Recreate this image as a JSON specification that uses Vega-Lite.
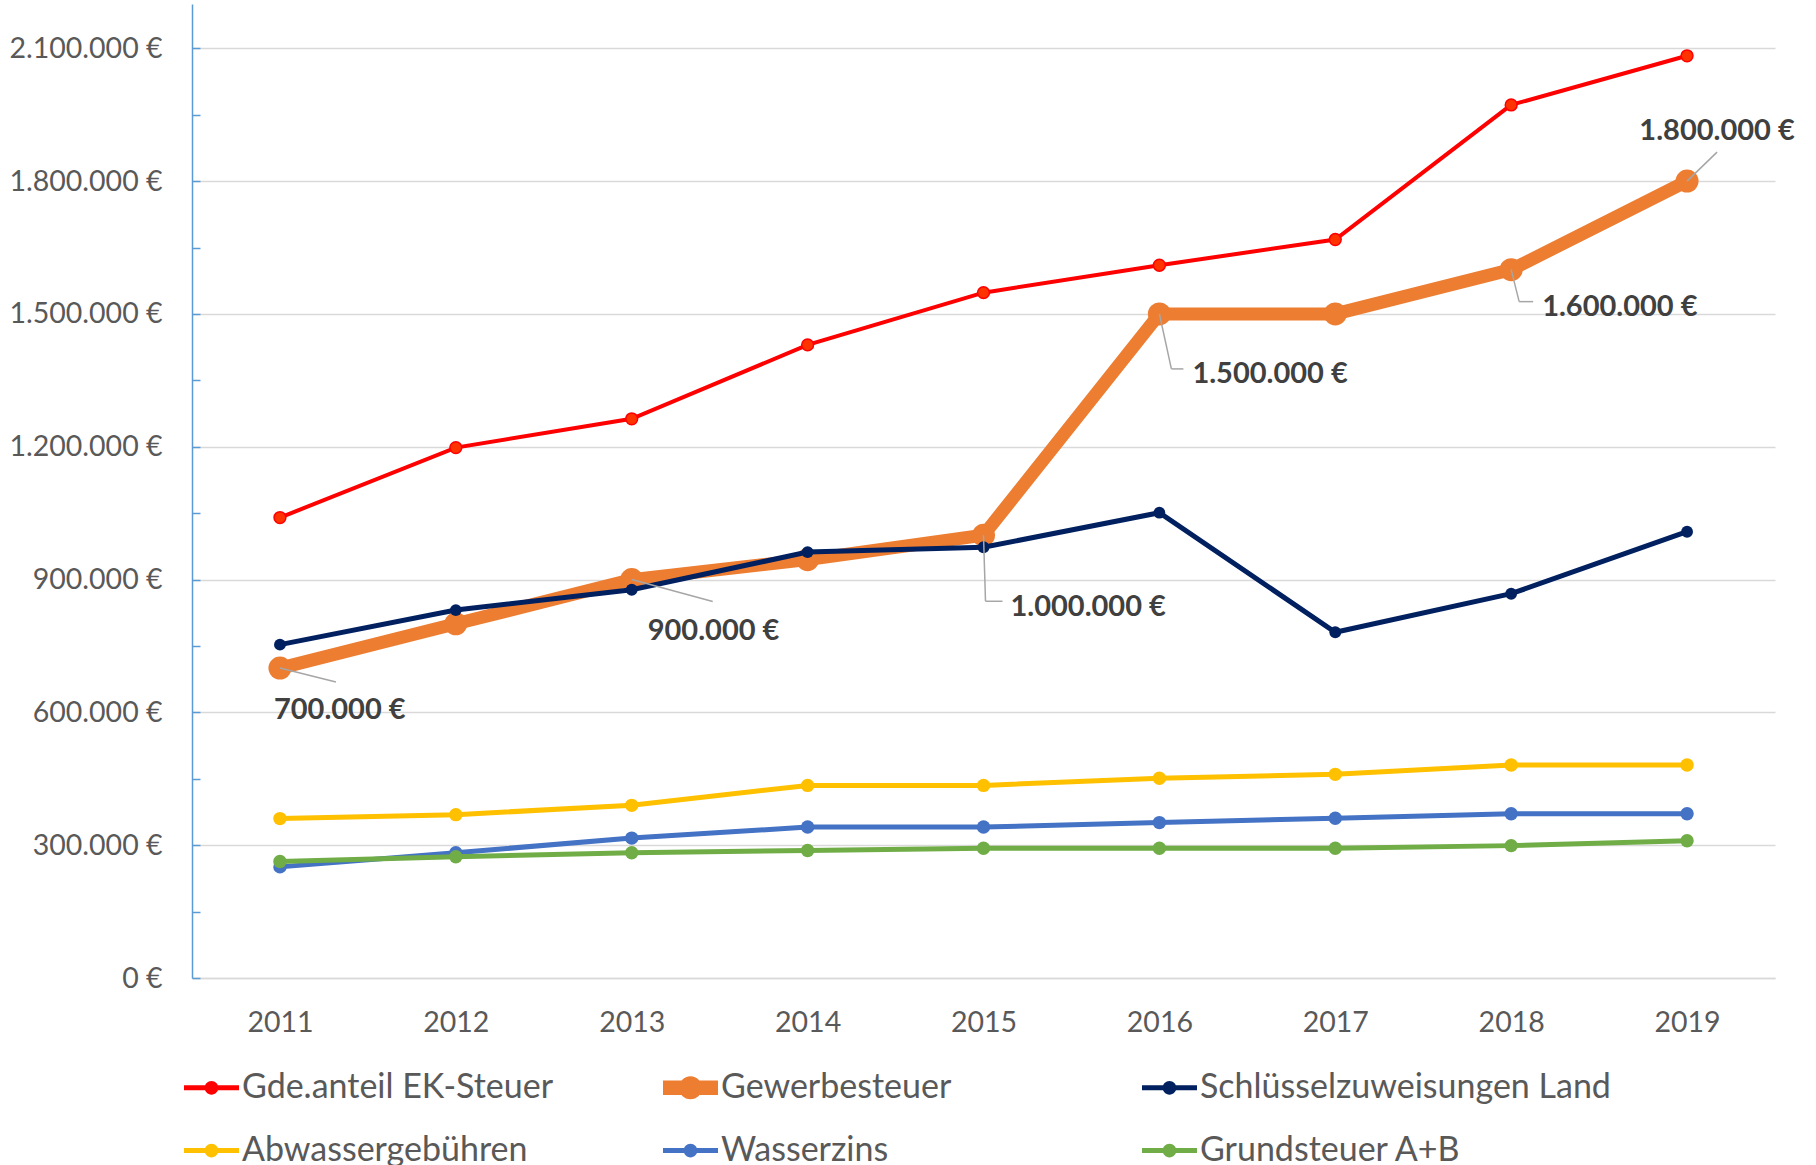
{
  "$schema": "https://vega.github.io/schema/vega-lite/v6.json",
  "width": 1583,
  "height": 974,
  "autosize": "none",
  "padding": {"left": 192, "top": 4, "right": 41, "bottom": 187},
  "background": "white",
  "config": {
    "locale": {"number": {"decimal": ",", "thousands": ".", "grouping": [3], "currency": ["", " €"]}},
    "view": {"stroke": null},
    "font": "Lato"
  },
  "data": {"values": [
    {"year": "2011", "series": "Gde.anteil EK-Steuer", "value": 1040000},
    {"year": "2012", "series": "Gde.anteil EK-Steuer", "value": 1198000},
    {"year": "2013", "series": "Gde.anteil EK-Steuer", "value": 1263000},
    {"year": "2014", "series": "Gde.anteil EK-Steuer", "value": 1430000},
    {"year": "2015", "series": "Gde.anteil EK-Steuer", "value": 1548000},
    {"year": "2016", "series": "Gde.anteil EK-Steuer", "value": 1610000},
    {"year": "2017", "series": "Gde.anteil EK-Steuer", "value": 1668000},
    {"year": "2018", "series": "Gde.anteil EK-Steuer", "value": 1972000},
    {"year": "2019", "series": "Gde.anteil EK-Steuer", "value": 2083000},
    {"year": "2011", "series": "Gewerbesteuer", "value": 700000},
    {"year": "2012", "series": "Gewerbesteuer", "value": 800000},
    {"year": "2013", "series": "Gewerbesteuer", "value": 900000},
    {"year": "2014", "series": "Gewerbesteuer", "value": 945000},
    {"year": "2015", "series": "Gewerbesteuer", "value": 1000000},
    {"year": "2016", "series": "Gewerbesteuer", "value": 1500000},
    {"year": "2017", "series": "Gewerbesteuer", "value": 1500000},
    {"year": "2018", "series": "Gewerbesteuer", "value": 1600000},
    {"year": "2019", "series": "Gewerbesteuer", "value": 1800000},
    {"year": "2011", "series": "Schlüsselzuweisungen Land", "value": 753000},
    {"year": "2012", "series": "Schlüsselzuweisungen Land", "value": 831000},
    {"year": "2013", "series": "Schlüsselzuweisungen Land", "value": 877000},
    {"year": "2014", "series": "Schlüsselzuweisungen Land", "value": 962000},
    {"year": "2015", "series": "Schlüsselzuweisungen Land", "value": 973000},
    {"year": "2016", "series": "Schlüsselzuweisungen Land", "value": 1051000},
    {"year": "2017", "series": "Schlüsselzuweisungen Land", "value": 781000},
    {"year": "2018", "series": "Schlüsselzuweisungen Land", "value": 868000},
    {"year": "2019", "series": "Schlüsselzuweisungen Land", "value": 1008000},
    {"year": "2011", "series": "Abwassergebühren", "value": 360000},
    {"year": "2012", "series": "Abwassergebühren", "value": 369000},
    {"year": "2013", "series": "Abwassergebühren", "value": 390000},
    {"year": "2014", "series": "Abwassergebühren", "value": 435000},
    {"year": "2015", "series": "Abwassergebühren", "value": 435000},
    {"year": "2016", "series": "Abwassergebühren", "value": 451000},
    {"year": "2017", "series": "Abwassergebühren", "value": 460000},
    {"year": "2018", "series": "Abwassergebühren", "value": 481000},
    {"year": "2019", "series": "Abwassergebühren", "value": 481000},
    {"year": "2011", "series": "Wasserzins", "value": 251000},
    {"year": "2012", "series": "Wasserzins", "value": 283000},
    {"year": "2013", "series": "Wasserzins", "value": 316000},
    {"year": "2014", "series": "Wasserzins", "value": 341000},
    {"year": "2015", "series": "Wasserzins", "value": 341000},
    {"year": "2016", "series": "Wasserzins", "value": 351000},
    {"year": "2017", "series": "Wasserzins", "value": 361000},
    {"year": "2018", "series": "Wasserzins", "value": 371000},
    {"year": "2019", "series": "Wasserzins", "value": 371000},
    {"year": "2011", "series": "Grundsteuer A+B", "value": 263000},
    {"year": "2012", "series": "Grundsteuer A+B", "value": 274000},
    {"year": "2013", "series": "Grundsteuer A+B", "value": 283000},
    {"year": "2014", "series": "Grundsteuer A+B", "value": 288000},
    {"year": "2015", "series": "Grundsteuer A+B", "value": 293000},
    {"year": "2016", "series": "Grundsteuer A+B", "value": 293000},
    {"year": "2017", "series": "Grundsteuer A+B", "value": 293000},
    {"year": "2018", "series": "Grundsteuer A+B", "value": 299000},
    {"year": "2019", "series": "Grundsteuer A+B", "value": 310000}
  ]},
  "encoding": {
    "x": {"field": "year", "type": "ordinal", "scale": {"type": "point", "padding": 0.5},
      "axis": {"title": null, "labelAngle": 0, "ticks": false, "grid": false, "domainColor": "#D9D9D9", "domainWidth": 1.5,
        "labelFont": "Lato", "labelFontSize": 28.5, "labelColor": "#595959", "labelPadding": 30}},
    "y": {"field": "value", "type": "quantitative", "scale": {"domain": [0, 2200000], "nice": false, "zero": true},
      "axis": {"title": null,
        "values": [0, 150000, 300000, 450000, 600000, 750000, 900000, 1050000, 1200000, 1350000, 1500000, 1650000, 1800000, 1950000, 2100000],
        "format": "$,d", "formatType": "number",
        "labelExpr": "datum.value % 300000 === 0 ? datum.label : ''",
        "grid": true, "gridColor": "#D9D9D9", "gridWidth": 1.5,
        "gridOpacity": {"condition": {"test": "datum.value % 300000 === 0", "value": 1}, "value": 0},
        "domainColor": "#5B9BD5", "domainWidth": 1.5, "tickColor": "#5B9BD5", "tickWidth": 1.5, "tickSize": -8,
        "labelFont": "Lato", "labelFontSize": 28.5, "labelColor": "#595959", "labelPadding": 38}},
    "color": {"field": "series", "type": "nominal",
      "scale": {"domain": ["Gde.anteil EK-Steuer", "Gewerbesteuer", "Schlüsselzuweisungen Land", "Abwassergebühren", "Wasserzins", "Grundsteuer A+B"],
        "range": ["#FF0000", "#ED7D31", "#002060", "#FFC000", "#4472C4", "#70AD47"]},
      "legend": {"title": null, "orient": "none", "legendX": -8, "legendY": 1056, "direction": "horizontal", "columns": 3, "gridAlign": "all",
        "columnPadding": 10, "rowPadding": 18, "labelFont": "Lato", "labelFontSize": 34, "labelColor": "#595959", "labelOffset": 3, "labelLimit": 600,
        "symbolType": "M0,-0.45M0,0.45M-1,-0.09L1,-0.09L1,0.09L-1,0.09ZM-0.25,0A0.25,0.25 0 1,1 0.25,0A0.25,0.25 0 1,1 -0.25,0Z", "symbolSize": 3025, "symbolStrokeWidth": 0,
        "encode": {"symbols": {"update": {
          "shape": {"signal": "datum.value === 'Gewerbesteuer' ? 'M0,-0.45M0,0.45M-1,-0.26L1,-0.26L1,0.26L-1,0.26ZM-0.42,0A0.42,0.42 0 1,1 0.42,0A0.42,0.42 0 1,1 -0.42,0Z' : 'M0,-0.45M0,0.45M-1,-0.09L1,-0.09L1,0.09L-1,0.09ZM-0.25,0A0.25,0.25 0 1,1 0.25,0A0.25,0.25 0 1,1 -0.25,0Z'"},
          "fill": {"scale": "color", "field": "value"},
          "fillOpacity": {"value": 1}, "opacity": {"value": 1},
          "strokeWidth": {"value": 0}}}}}}
  },
  "layer": [
    {"transform": [{"filter": "datum.series === 'Gde.anteil EK-Steuer'"}], "mark": {"type": "line", "strokeWidth": 4}},
    {"transform": [{"filter": "datum.series === 'Gde.anteil EK-Steuer'"}], "mark": {"type": "point", "filled": true, "size": 140, "stroke": "#FF0000", "strokeWidth": 1.5, "opacity": 1}, "encoding": {"color": {"value": "#FF3300"}}},
    {"transform": [{"filter": "datum.series === 'Gewerbesteuer'"}], "mark": {"type": "line", "strokeWidth": 13}},
    {"transform": [{"filter": "datum.series === 'Gewerbesteuer'"}], "mark": {"type": "point", "filled": true, "size": 530, "opacity": 1}},
    {"transform": [{"filter": "datum.series === 'Schlüsselzuweisungen Land'"}], "mark": {"type": "line", "strokeWidth": 5}},
    {"transform": [{"filter": "datum.series === 'Schlüsselzuweisungen Land'"}], "mark": {"type": "point", "filled": true, "size": 140, "opacity": 1}},
    {"transform": [{"filter": "datum.series === 'Abwassergebühren'"}], "mark": {"type": "line", "strokeWidth": 5}},
    {"transform": [{"filter": "datum.series === 'Abwassergebühren'"}], "mark": {"type": "point", "filled": true, "size": 180, "opacity": 1}},
    {"transform": [{"filter": "datum.series === 'Wasserzins'"}], "mark": {"type": "line", "strokeWidth": 5}},
    {"transform": [{"filter": "datum.series === 'Wasserzins'"}], "mark": {"type": "point", "filled": true, "size": 180, "opacity": 1}},
    {"transform": [{"filter": "datum.series === 'Grundsteuer A+B'"}], "mark": {"type": "line", "strokeWidth": 5}},
    {"transform": [{"filter": "datum.series === 'Grundsteuer A+B'"}], "mark": {"type": "point", "filled": true, "size": 180, "opacity": 1}},

    {"transform": [{"filter": "datum.series === 'Gewerbesteuer' && datum.year === '2011'"}],
      "layer": [
        {"mark": {"type": "rule", "strokeWidth": 1.5, "x2Offset": 56, "y2Offset": 14}, "encoding": {"x2": {"field": "year"}, "y2": {"field": "value"}, "color": {"value": "#A6A6A6"}}},
        {"mark": {"type": "text", "align": "left", "baseline": "middle", "dx": -6, "dy": 42, "font": "Lato", "fontWeight": "bold", "fontSize": 29}, "encoding": {"text": {"field": "value", "type": "quantitative", "format": "$,d", "formatType": "number"}, "color": {"value": "#404040"}}}
      ]},
    {"transform": [{"filter": "datum.series === 'Gewerbesteuer' && datum.year === '2013'"}],
      "layer": [
        {"mark": {"type": "rule", "strokeWidth": 1.5, "x2Offset": 81, "y2Offset": 22}, "encoding": {"x2": {"field": "year"}, "y2": {"field": "value"}, "color": {"value": "#A6A6A6"}}},
        {"mark": {"type": "text", "align": "left", "baseline": "middle", "dx": 16, "dy": 51, "font": "Lato", "fontWeight": "bold", "fontSize": 29}, "encoding": {"text": {"field": "value", "type": "quantitative", "format": "$,d", "formatType": "number"}, "color": {"value": "#404040"}}}
      ]},
    {"transform": [{"filter": "datum.series === 'Gewerbesteuer' && datum.year === '2015'"}],
      "layer": [
        {"mark": {"type": "rule", "strokeWidth": 1.5, "x2Offset": 2, "y2Offset": 66}, "encoding": {"x2": {"field": "year"}, "y2": {"field": "value"}, "color": {"value": "#A6A6A6"}}},
        {"mark": {"type": "rule", "strokeWidth": 1.5, "xOffset": 2, "yOffset": 66, "x2Offset": 19, "y2Offset": 66}, "encoding": {"x2": {"field": "year"}, "y2": {"field": "value"}, "color": {"value": "#A6A6A6"}}},
        {"mark": {"type": "text", "align": "left", "baseline": "middle", "dx": 27, "dy": 72, "font": "Lato", "fontWeight": "bold", "fontSize": 29}, "encoding": {"text": {"field": "value", "type": "quantitative", "format": "$,d", "formatType": "number"}, "color": {"value": "#404040"}}}
      ]},
    {"transform": [{"filter": "datum.series === 'Gewerbesteuer' && datum.year === '2016'"}],
      "layer": [
        {"mark": {"type": "rule", "strokeWidth": 1.5, "x2Offset": 12, "y2Offset": 55}, "encoding": {"x2": {"field": "year"}, "y2": {"field": "value"}, "color": {"value": "#A6A6A6"}}},
        {"mark": {"type": "rule", "strokeWidth": 1.5, "xOffset": 12, "yOffset": 55, "x2Offset": 24, "y2Offset": 55}, "encoding": {"x2": {"field": "year"}, "y2": {"field": "value"}, "color": {"value": "#A6A6A6"}}},
        {"mark": {"type": "text", "align": "left", "baseline": "middle", "dx": 33, "dy": 60, "font": "Lato", "fontWeight": "bold", "fontSize": 29}, "encoding": {"text": {"field": "value", "type": "quantitative", "format": "$,d", "formatType": "number"}, "color": {"value": "#404040"}}}
      ]},
    {"transform": [{"filter": "datum.series === 'Gewerbesteuer' && datum.year === '2018'"}],
      "layer": [
        {"mark": {"type": "rule", "strokeWidth": 1.5, "x2Offset": 8, "y2Offset": 32}, "encoding": {"x2": {"field": "year"}, "y2": {"field": "value"}, "color": {"value": "#A6A6A6"}}},
        {"mark": {"type": "rule", "strokeWidth": 1.5, "xOffset": 8, "yOffset": 32, "x2Offset": 22, "y2Offset": 32}, "encoding": {"x2": {"field": "year"}, "y2": {"field": "value"}, "color": {"value": "#A6A6A6"}}},
        {"mark": {"type": "text", "align": "left", "baseline": "middle", "dx": 31, "dy": 37, "font": "Lato", "fontWeight": "bold", "fontSize": 29}, "encoding": {"text": {"field": "value", "type": "quantitative", "format": "$,d", "formatType": "number"}, "color": {"value": "#404040"}}}
      ]},
    {"transform": [{"filter": "datum.series === 'Gewerbesteuer' && datum.year === '2019'"}],
      "layer": [
        {"mark": {"type": "rule", "strokeWidth": 1.5, "x2Offset": 30, "y2Offset": -29}, "encoding": {"x2": {"field": "year"}, "y2": {"field": "value"}, "color": {"value": "#A6A6A6"}}},
        {"mark": {"type": "text", "align": "center", "baseline": "middle", "dx": 30, "dy": -50, "font": "Lato", "fontWeight": "bold", "fontSize": 29}, "encoding": {"text": {"field": "value", "type": "quantitative", "format": "$,d", "formatType": "number"}, "color": {"value": "#404040"}}}
      ]}
  ]
}
